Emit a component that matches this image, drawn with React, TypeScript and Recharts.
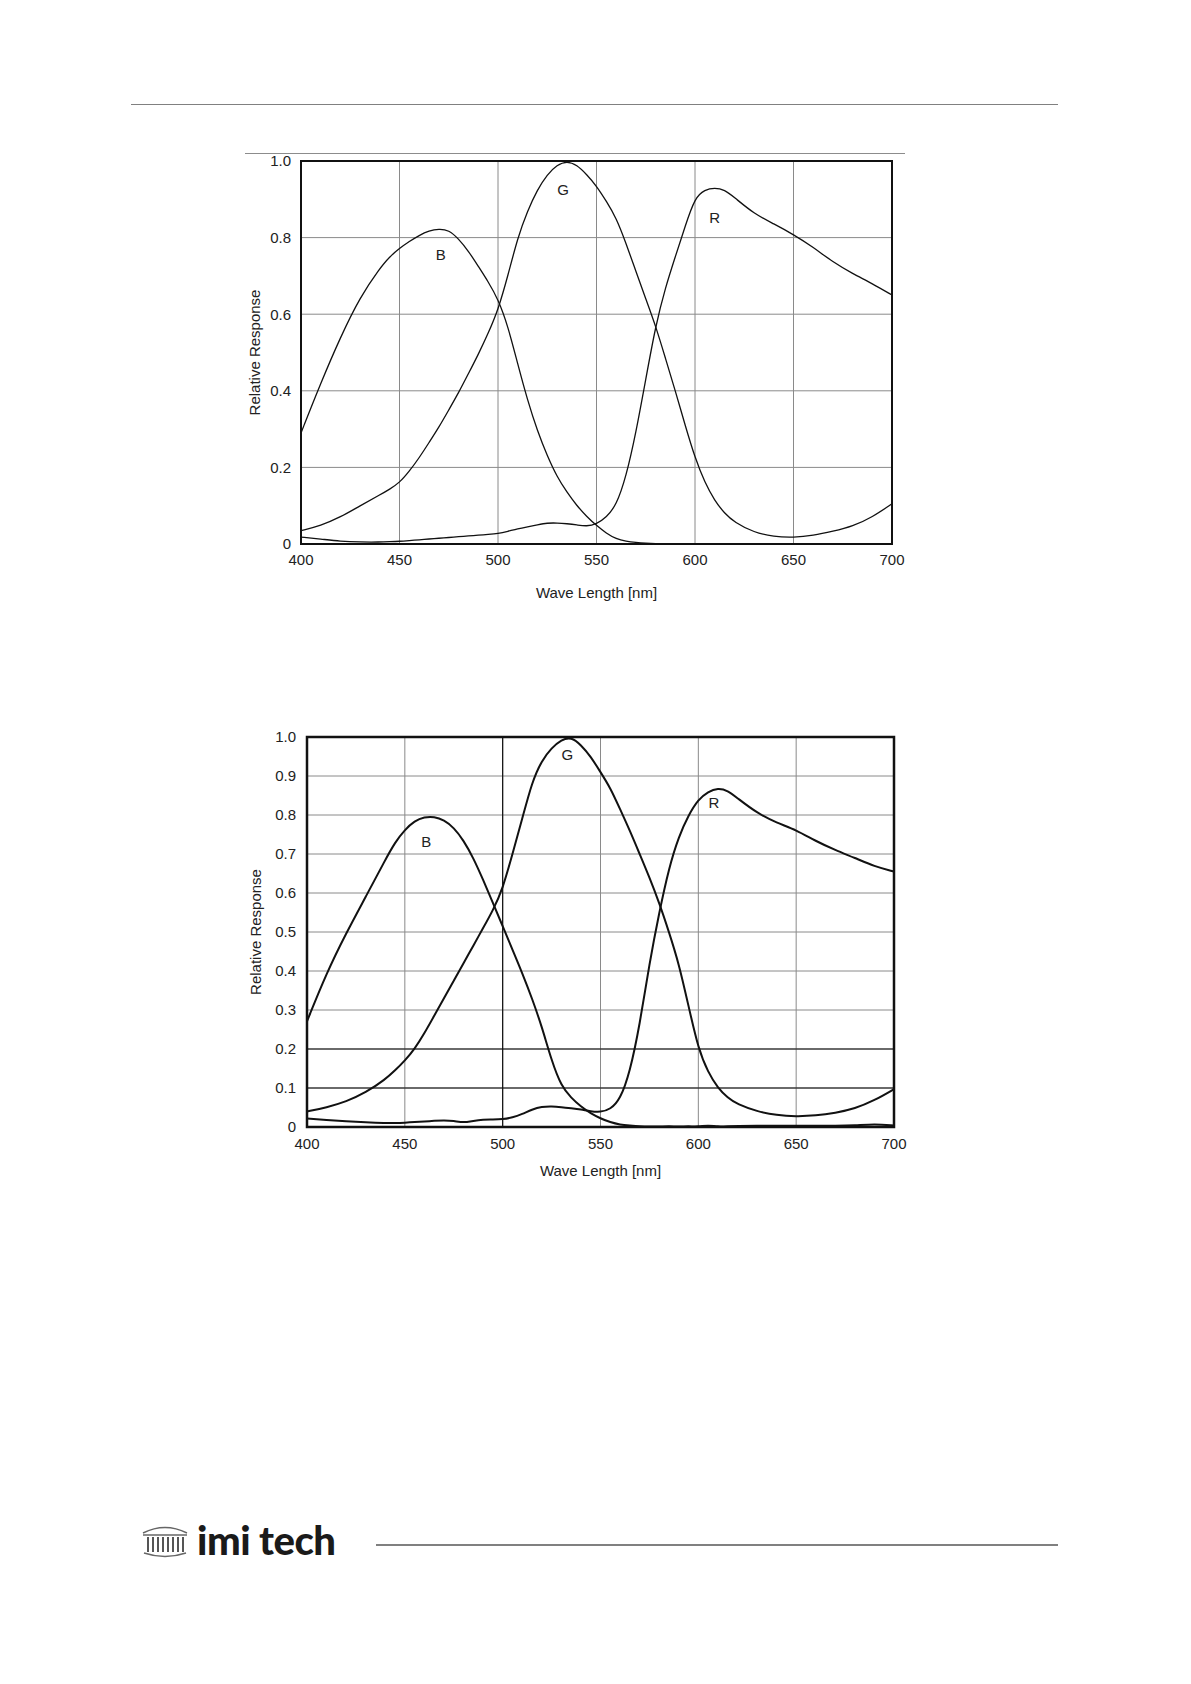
import React from 'react';
import {
  LineChart,
  Line,
  XAxis,
  YAxis,
  CartesianGrid,
  ReferenceArea,
  ReferenceLine,
  ReferenceDot,
} from 'recharts';

// wavelength samples [nm], shared by both charts
const waveLengths = [
  400, 410, 420, 430, 440, 445, 450, 455, 460, 465, 470, 475, 480, 485, 490, 495,
  500, 505, 510, 515, 520, 525, 530, 535, 540, 545, 550, 555, 560, 565, 570, 575,
  580, 585, 590, 595, 600, 605, 610, 615, 620, 630, 640, 650, 660, 670, 680, 690, 700,
];

// upper chart
const blue1 = [
  0.29, 0.42, 0.54, 0.645, 0.72, 0.75, 0.772, 0.79, 0.806, 0.818, 0.823, 0.82, 0.797, 0.765, 0.725, 0.685,
  0.64, 0.57, 0.47, 0.375, 0.295, 0.23, 0.175, 0.135, 0.1, 0.072, 0.048, 0.028, 0.013, 0.007, 0.004, 0.002,
  0.001, 0.001, 0.001, 0.001, 0.001, 0.001, 0.001, 0.001, 0.001, 0.001, 0.001, 0.001, 0.001, 0.001, 0.001, 0.001, 0.001,
];
const green1 = [
  0.035, 0.048, 0.07, 0.1, 0.128, 0.143, 0.16, 0.19, 0.225, 0.265, 0.305, 0.35, 0.395, 0.445, 0.495, 0.55,
  0.61, 0.7, 0.8, 0.87, 0.925, 0.965, 0.99, 1.0, 0.99, 0.965, 0.935, 0.895, 0.852, 0.785, 0.712, 0.64,
  0.57, 0.485, 0.4, 0.31, 0.225, 0.16, 0.113, 0.08, 0.057, 0.03, 0.019, 0.017, 0.022, 0.033, 0.046, 0.07, 0.105,
];
const red1 = [
  0.018, 0.013, 0.007, 0.005, 0.005, 0.006, 0.007, 0.009, 0.011, 0.013, 0.015, 0.017, 0.019, 0.021, 0.023, 0.025,
  0.027, 0.033, 0.04, 0.045, 0.05, 0.055, 0.055, 0.053, 0.05, 0.046, 0.052, 0.07, 0.1, 0.175, 0.29, 0.43,
  0.57, 0.67, 0.75, 0.83, 0.905, 0.925, 0.93, 0.925, 0.905, 0.862, 0.836, 0.808, 0.775, 0.736, 0.706, 0.68, 0.65,
];

// lower chart
const blue2 = [
  0.271, 0.395, 0.497, 0.59, 0.685, 0.73, 0.762, 0.785, 0.795, 0.796, 0.787, 0.768, 0.735, 0.69, 0.634, 0.575,
  0.515, 0.455, 0.395, 0.33, 0.258, 0.17, 0.104, 0.075, 0.052, 0.035, 0.022, 0.012, 0.006, 0.004, 0.002, 0.001,
  0.001, 0.002, 0.001, 0.002, 0.001, 0.004, 0.001, 0.002, 0.003, 0.003, 0.003, 0.003, 0.003, 0.003, 0.004, 0.008, 0.004,
];
const green2 = [
  0.04, 0.05, 0.065, 0.088, 0.122, 0.145, 0.17, 0.2, 0.24, 0.285, 0.33, 0.375, 0.42, 0.465, 0.51, 0.555,
  0.61, 0.7, 0.79, 0.885, 0.94, 0.972, 0.993, 1.0, 0.98, 0.95, 0.91, 0.87, 0.815, 0.76, 0.7, 0.64,
  0.575, 0.5, 0.42, 0.31, 0.2, 0.14, 0.1, 0.075, 0.058, 0.04, 0.03, 0.027, 0.029, 0.036, 0.047, 0.068, 0.097,
];
const red2 = [
  0.022, 0.018, 0.015, 0.012, 0.01, 0.01, 0.011, 0.013, 0.014, 0.016, 0.017, 0.016, 0.011, 0.016, 0.019, 0.019,
  0.02, 0.024, 0.033, 0.045, 0.052, 0.053, 0.051, 0.048, 0.045, 0.04, 0.038, 0.045, 0.07, 0.14, 0.26, 0.42,
  0.55, 0.665, 0.745, 0.8, 0.84, 0.86, 0.869, 0.863, 0.843, 0.805, 0.78, 0.762, 0.733, 0.71, 0.69, 0.668, 0.655,
];

const xTicks = [400, 450, 500, 550, 600, 650, 700];
const yTicks1 = [0, 0.2, 0.4, 0.6, 0.8, 1.0];
const yTicks2 = [0, 0.1, 0.2, 0.3, 0.4, 0.5, 0.6, 0.7, 0.8, 0.9, 1.0];

// curve letters: [text, wavelength, response]
const letters1: [string, number, number][] = [['G', 533, 0.924], ['R', 610, 0.851], ['B', 471, 0.755]];
const letters2: [string, number, number][] = [['G', 533, 0.954], ['R', 608, 0.831], ['B', 461, 0.731]];

const FONT = '"Liberation Sans", Arial, sans-serif';
const INK = '#222';

const build = (b: number[], g: number[], r: number[]) =>
  waveLengths.map((w, i) => ({ w, b: b[i], g: g[i], r: r[i] }));

const fmtY = (v: number) => (v === 0 ? '0' : v.toFixed(1));

const yTitle = (dx: number) => (props: any) => {
  const vb = props.viewBox;
  const cx = vb.x + dx;
  const cy = vb.y + vb.height / 2;
  return (
    <text x={cx} y={cy} transform={`rotate(-90 ${cx} ${cy})`} textAnchor="middle"
      dominantBaseline="central" fontSize={15} fill={INK} fontFamily={FONT}>
      Relative Response
    </text>
  );
};

const xTitle = (dy: number) => (props: any) => {
  const vb = props.viewBox;
  return (
    <text x={vb.x + vb.width / 2} y={vb.y + dy} textAnchor="middle" dominantBaseline="central"
      fontSize={15} fill={INK} fontFamily={FONT}>
      Wave Length [nm]
    </text>
  );
};

type SpecProps = {
  data: any[];
  yTicks: number[];
  letters: [string, number, number][];
  width: number;
  height: number;
  plotHeight: number;
  right: number;
  yTitleX: number;
  xTitleY: number;
  xTickGap: number;
  yTickGap: number;
  lineWidth: number;
  borderWidth: number;
  darkLines?: boolean;
};

const SpectrumChart = (p: SpecProps) => (
  <LineChart width={p.width} height={p.height} data={p.data}
    margin={{ top: 11, right: p.right, bottom: 0, left: 0 }} style={{ fontFamily: FONT }}>
    <CartesianGrid stroke="#8a8a8a" strokeWidth={1} horizontalValues={p.yTicks} verticalValues={xTicks} />
    {p.darkLines && <ReferenceLine y={0.1} stroke="#111" strokeWidth={1.2} />}
    {p.darkLines && <ReferenceLine y={0.2} stroke="#111" strokeWidth={1.2} />}
    {p.darkLines && <ReferenceLine x={500} stroke="#111" strokeWidth={1.2} />}
    <XAxis dataKey="w" type="number" domain={[400, 700]} ticks={xTicks} axisLine={false} tickLine={false}
      tickSize={0} tickMargin={p.xTickGap} height={p.height - 11 - p.plotHeight}
      tick={{ fontSize: 15, fill: INK, fontFamily: FONT }} label={{ content: xTitle(p.xTitleY) }} />
    <YAxis type="number" domain={[0, 1]} ticks={p.yTicks} tickFormatter={fmtY} axisLine={false} tickLine={false}
      tickSize={0} tickMargin={p.yTickGap} width={70} interval={0}
      tick={{ fontSize: 15, fill: INK, fontFamily: FONT }} label={{ content: yTitle(p.yTitleX) }} />
    <Line type="basis" dataKey="b" stroke="#111" strokeWidth={p.lineWidth} dot={false} isAnimationActive={false} />
    <Line type="basis" dataKey="g" stroke="#111" strokeWidth={p.lineWidth} dot={false} isAnimationActive={false} />
    <Line type="basis" dataKey="r" stroke="#111" strokeWidth={p.lineWidth} dot={false} isAnimationActive={false} />
    <ReferenceArea x1={400} x2={700} y1={0} y2={1} fill="none" stroke="#111" strokeWidth={p.borderWidth}
      ifOverflow="visible" />
    {p.letters.map(([t, x, y]) => (
      <ReferenceDot key={t} x={x} y={y} r={0} fill="none" stroke="none"
        label={{ value: t, position: 'center', fontSize: 15, fill: INK, fontFamily: FONT }} />
    ))}
  </LineChart>
);

const Logo = () => (
  <svg width={320} height={56} style={{ position: 'absolute', left: 130, top: 1512 }}>
    <g stroke="#666" fill="none" strokeWidth={1.4}>
      <path d="M13 21 Q35 10 57 21" />
      <path d="M13 23 L57 23" />
      <path d="M14 41 Q35 48 56 41" />
    </g>
    <g stroke="#555" strokeWidth={2}>
      {[18, 23, 28, 33, 38, 43, 48, 53].map((x) => (
        <line key={x} x1={x} y1={25} x2={x} y2={40} />
      ))}
    </g>
    <text x={67} y={43} fontFamily="Lato, 'Noto Sans', sans-serif" fontWeight={900} fontSize={40}
      fill="#1a1a1a" letterSpacing={-0.5}>
      imi tech
    </text>
  </svg>
);

export default function App() {
  const data1 = build(blue1, green1, red1);
  const data2 = build(blue2, green2, red2);
  return (
    <div style={{ position: 'absolute', left: 0, top: 0, width: 1191, height: 1684, background: '#fff', overflow: 'hidden' }}>
      <div style={{ position: 'absolute', left: 131, top: 103.5, width: 927, height: 1.5, background: '#808080' }} />
      <div style={{ position: 'absolute', left: 245, top: 153, width: 660, height: 1, background: '#8c8c8c' }} />
      <div style={{ position: 'absolute', left: 231, top: 150 }}>
        <SpectrumChart data={data1} yTicks={yTicks1} letters={letters1} width={680} height={460} plotHeight={383}
          right={19} yTitleX={23} xTitleY={48} xTickGap={10} yTickGap={10} lineWidth={1.3} borderWidth={2} />
      </div>
      <div style={{ position: 'absolute', left: 237, top: 726 }}>
        <SpectrumChart data={data2} yTicks={yTicks2} letters={letters2} width={680} height={470} plotHeight={390}
          right={23} yTitleX={18} xTitleY={43} xTickGap={11} yTickGap={11} lineWidth={2} borderWidth={2.5} darkLines />
      </div>
      <Logo />
      <div style={{ position: 'absolute', left: 376, top: 1544, width: 682, height: 1.5, background: '#808080' }} />
    </div>
  );
}
